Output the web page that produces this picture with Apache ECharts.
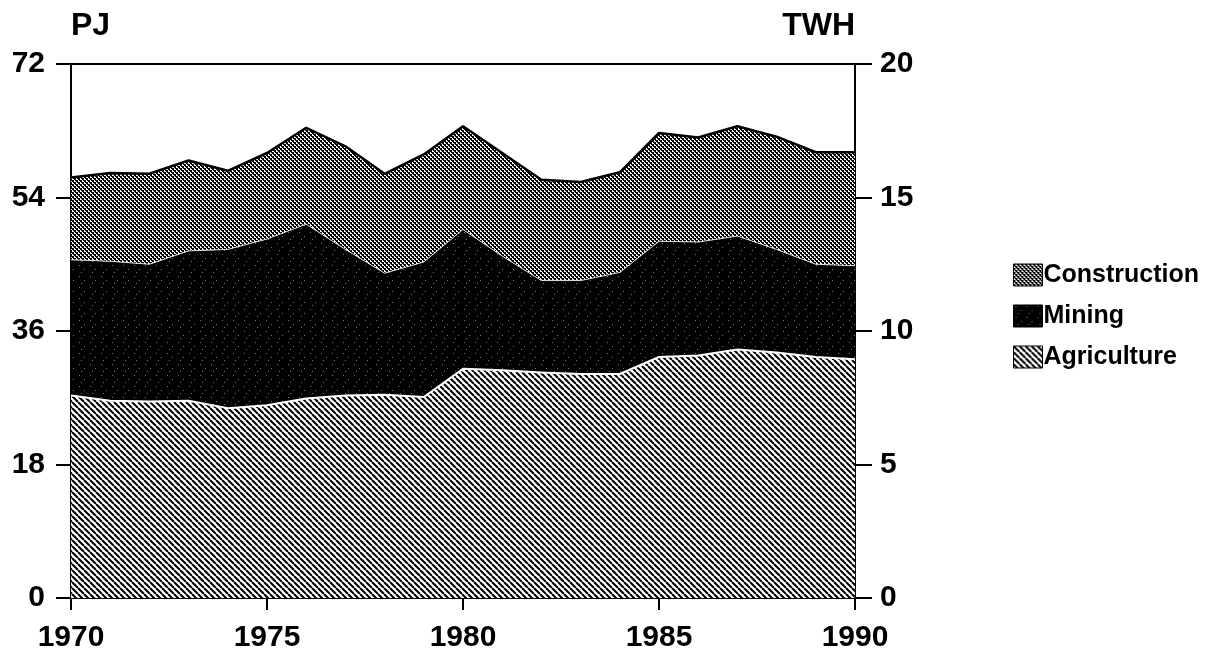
<!DOCTYPE html>
<html>
<head>
<meta charset="utf-8">
<script src="https://cdn.jsdelivr.net/npm/echarts@6/dist/echarts.min.js"></script>
<style>
html,body{margin:0;padding:0;background:#fff;}
#chart{width:1220px;height:653px;}
</style>
</head>
<body>
<div id="chart"></div>
<script>
// ---- data (PJ) ----
const years = ['1970','1971','1972','1973','1974','1975','1976','1977','1978','1979','1980',
               '1981','1982','1983','1984','1985','1986','1987','1988','1989','1990'];
const agriculture  = [27.3,26.6,26.5,26.6,25.6,26.0,26.9,27.3,27.4,27.1,30.9,30.7,30.4,30.2,30.2,32.5,32.7,33.5,33.1,32.5,32.2];
const mining       = [18.3,18.8,18.5,20.2,21.4,22.4,23.5,19.7,16.4,18.2,18.8,15.4,12.4,12.6,13.7,15.6,15.3,15.3,13.9,12.5,12.6];
const construction = [11.1,11.9,12.2,12.2,10.6,11.6,13.0,13.9,13.4,14.5,13.9,13.9,13.6,13.3,13.5,14.6,14.1,14.8,15.2,15.1,15.3];
const legendOrder = ['Construction','Mining','Agriculture'];
const pjTicks = {min:0, max:72, interval:18};
const twhTicks = {min:0, max:20, interval:5};

// ---- fill patterns ----
function hatch(){
  const c = document.createElement('canvas'); c.width = 6; c.height = 6;
  const g = c.getContext('2d');
  g.fillStyle = '#fff'; g.fillRect(0,0,6,6);
  g.strokeStyle = '#000'; g.lineWidth = 2;
  for (const o of [-6,0,6]) { g.beginPath(); g.moveTo(o,0); g.lineTo(o+6,6); g.stroke(); }
  return c;
}
function checker(){
  const c = document.createElement('canvas'); c.width = 4; c.height = 4;
  const g = c.getContext('2d');
  g.fillStyle = '#fff'; g.fillRect(0,0,4,4);
  g.fillStyle = '#000'; g.fillRect(0,0,2,2); g.fillRect(2,2,2,2);
  g.fillRect(1,2,1,1); g.fillRect(3,0,1,1);
  return c;
}
function speckle(){
  const c = document.createElement('canvas'); c.width = 11; c.height = 11;
  const g = c.getContext('2d');
  g.fillStyle = '#000'; g.fillRect(0,0,11,11);
  g.fillStyle = '#777'; g.fillRect(2,1,1,1); g.fillRect(7,5,1,1); g.fillRect(4,8,1,1);
  return c;
}
const patAgr = {image: hatch(), repeat: 'repeat'};
const patCon = {image: checker(), repeat: 'repeat'};
const patMin = {image: speckle(), repeat: 'repeat'};

const font = '"Liberation Sans", Arial, sans-serif';
const chart = echarts.init(document.getElementById('chart'), null, {renderer:'canvas'});

function mkSeries(name, data, pat, lineColor, lineWidth){
  return {
    name, type:'line', stack:'total', data, symbol:'none', showSymbol:false,
    smooth:false, silent:true,
    lineStyle:{color: lineColor, width: lineWidth},
    itemStyle:{color: pat, borderColor:'#000', borderWidth:1},
    areaStyle:{color: pat, opacity:1}
  };
}

chart.setOption({
  animation:false,
  backgroundColor:'#fff',
  grid:{left:71, right:365, top:64, bottom:53, show:true, borderColor:'#000', borderWidth:2, backgroundColor:'transparent'},
  legend:{
    data: legendOrder, orient:'vertical', left:1008, top:257,
    icon:'rect', itemWidth:29, itemHeight:22, itemGap:15,
    textStyle:{fontFamily:font, fontSize:25, fontWeight:'bold', color:'#000', lineHeight:26, padding:[0,0,0,-4]},
    itemStyle:{borderColor:'#000', borderWidth:1}
  },
  xAxis:{
    type:'category', data: years, boundaryGap:false,
    axisLine:{show:true, lineStyle:{color:'#000', width:2}},
    axisTick:{show:true, interval:4, length:12, lineStyle:{color:'#000', width:2}},
    axisLabel:{interval:4, margin:25, fontFamily:font, fontSize:30, fontWeight:'bold', color:'#000'},
    splitLine:{show:false}
  },
  yAxis:[{
    type:'value', position:'left', min:pjTicks.min, max:pjTicks.max, interval:pjTicks.interval,
    name:'PJ', nameLocation:'end', nameGap:22,
    nameTextStyle:{fontFamily:font, fontSize:32, fontWeight:'bold', color:'#000', align:'left'},
    axisLine:{show:true, lineStyle:{color:'#000', width:2}},
    axisTick:{show:true, length:15, lineStyle:{color:'#000', width:2}},
    axisLabel:{margin:26, fontFamily:font, fontSize:30, fontWeight:'bold', color:'#000'},
    splitLine:{show:false}
  },{
    type:'value', position:'right', min:twhTicks.min, max:twhTicks.max, interval:twhTicks.interval,
    name:'TWH', nameLocation:'end', nameGap:22,
    nameTextStyle:{fontFamily:font, fontSize:32, fontWeight:'bold', color:'#000', align:'right'},
    axisLine:{show:true, lineStyle:{color:'#000', width:2}},
    axisTick:{show:true, length:17, lineStyle:{color:'#000', width:2}},
    axisLabel:{margin:25, fontFamily:font, fontSize:30, fontWeight:'bold', color:'#000'},
    splitLine:{show:false}
  }],
  series:[
    mkSeries('Agriculture', agriculture, patAgr, '#fff', 2),
    mkSeries('Mining', mining, patMin, '#ddd', 1),
    mkSeries('Construction', construction, patCon, '#000', 2.5)
  ]
});
</script>
</body>
</html>
